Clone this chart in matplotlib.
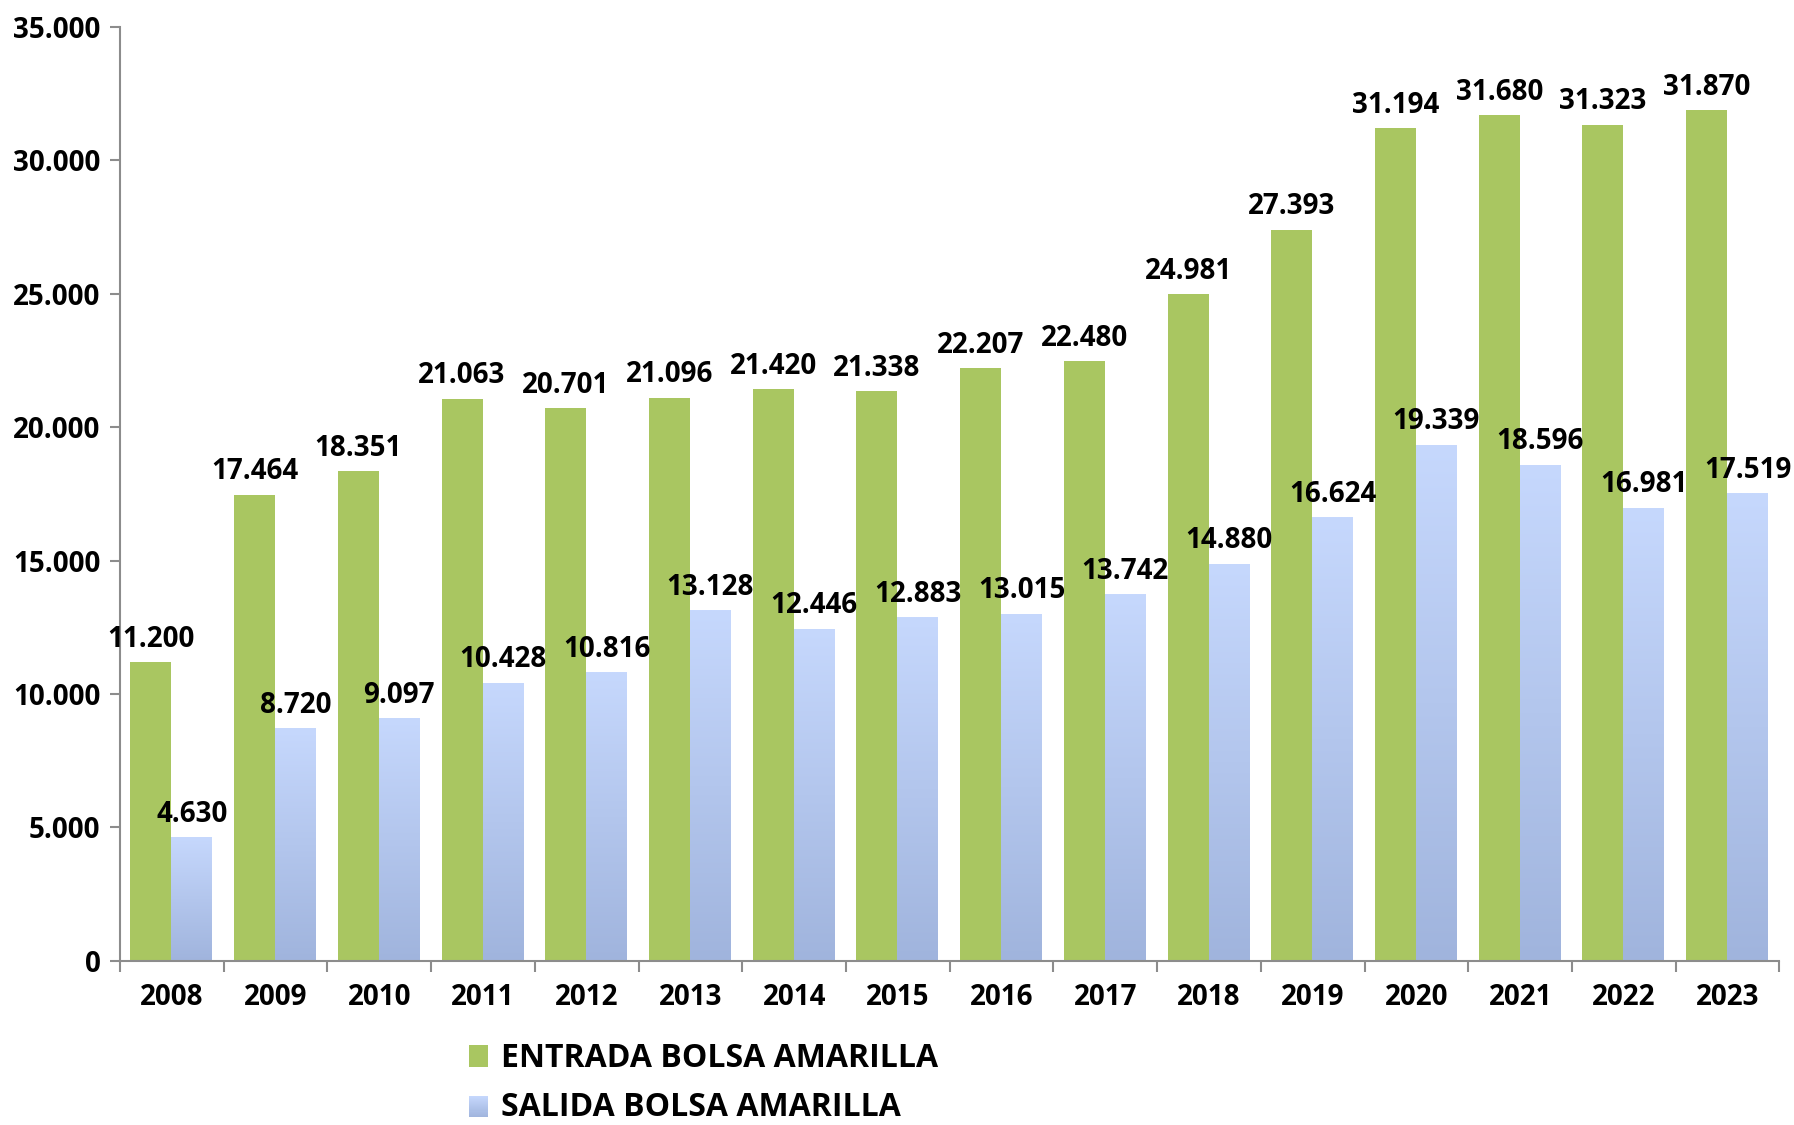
import matplotlib.pyplot as plt
import numpy as np
from matplotlib.colors import LinearSegmentedColormap
from matplotlib.patches import Patch
from matplotlib.legend_handler import HandlerPatch

years = ['2008', '2009', '2010', '2011', '2012', '2013', '2014', '2015',
         '2016', '2017', '2018', '2019', '2020', '2021', '2022', '2023']
entrada = [11200, 17464, 18351, 21063, 20701, 21096, 21420, 21338,
           22207, 22480, 24981, 27393, 31194, 31680, 31323, 31870]
salida = [4630, 8720, 9097, 10428, 10816, 13128, 12446, 12883,
          13015, 13742, 14880, 16624, 19339, 18596, 16981, 17519]

GREEN = '#A9C661'
BLUE_TOP = '#C6D8FD'
BLUE_BOT = '#A0B4DD'

plt.rcParams['font.family'] = ['Open Sans', 'DejaVu Sans']
plt.rcParams['font.weight'] = 'bold'

fig = plt.figure(figsize=(17.94, 11.25), dpi=100)
ax = fig.add_axes([0.0669, 0.1458, 0.9250, 0.8306])

x = np.arange(len(years))
w = 0.395
off = 0.0045  # groups slightly left of center

bars_e = ax.bar(x - w / 2 - off, entrada, w, color=GREEN, zorder=2)
bars_s = ax.bar(x + w / 2 - off, salida, w, color='none', zorder=2)

# vertical gradient inside each blue bar
cmap = LinearSegmentedColormap.from_list('blu', [BLUE_BOT, BLUE_TOP])
grad = np.linspace(0, 1, 256).reshape(-1, 1)
for b in bars_s:
    x0 = b.get_x()
    im = ax.imshow(grad, extent=[x0, x0 + b.get_width(), 0, b.get_height()],
                   origin='lower', cmap=cmap, aspect='auto', zorder=2)
    im.set_clip_path(b)

def fmt(v):
    return f'{v:,}'.replace(',', '.')

for b, v in zip(bars_e, entrada):
    ax.annotate(fmt(v), (b.get_x() + b.get_width() / 2, v),
                xytext=(0, 11), textcoords='offset points',
                ha='center', va='baseline', fontsize=20, fontweight='bold')
for b, v in zip(bars_s, salida):
    ax.annotate(fmt(v), (b.get_x() + b.get_width() / 2, v),
                xytext=(0, 11), textcoords='offset points',
                ha='center', va='baseline', fontsize=20, fontweight='bold')

ax.set_xlim(-0.5, len(years) - 0.5)
ax.set_ylim(0, 35000)
ax.set_yticks(np.arange(0, 35001, 5000))
ax.set_yticklabels([fmt(v) for v in range(0, 35001, 5000)])
ax.set_xticks(x)
ax.set_xticklabels(years)
ax.set_xticks(np.arange(-0.5, len(years)), minor=True)

for s in ['top', 'right']:
    ax.spines[s].set_visible(False)
for s in ['left', 'bottom']:
    ax.spines[s].set_color('#8C8C8C')
    ax.spines[s].set_linewidth(1.5)

ax.tick_params(axis='x', which='major', length=0, pad=16, labelsize=20)
ax.tick_params(axis='x', which='minor', length=8, width=1.5, color='#8C8C8C', direction='out')
ax.tick_params(axis='y', length=7, width=1.5, color='#8C8C8C', pad=7, labelsize=20)
for lbl in ax.get_xticklabels() + ax.get_yticklabels():
    lbl.set_fontweight('bold')


class GradHandler(HandlerPatch):
    def create_artists(self, legend, orig, xd, yd, width, height, fontsize, trans):
        arts = []
        n = 20
        for i in range(n):
            c = cmap(1 - (i + 0.5) / n)
            p = plt.Rectangle((xd, yd + height * (1 - (i + 1) / n)), width, height / n,
                              facecolor=c, edgecolor='none', transform=trans)
            arts.append(p)
        return arts


h1 = Patch(facecolor=GREEN)
h2 = Patch(facecolor=BLUE_TOP)
fig.legend([h1, h2], ['ENTRADA BOLSA AMARILLA', 'SALIDA BOLSA AMARILLA'],
           loc='upper left', bbox_to_anchor=(0.2615, 0.0735), frameon=False,
           prop={'size': 23, 'weight': 'bold'}, handlelength=0.6, handleheight=0.65,
           handletextpad=0.39, labelspacing=0.5, borderpad=0, borderaxespad=0,
           handler_map={h2: GradHandler()})

fig.savefig('out.png', dpi=100)
